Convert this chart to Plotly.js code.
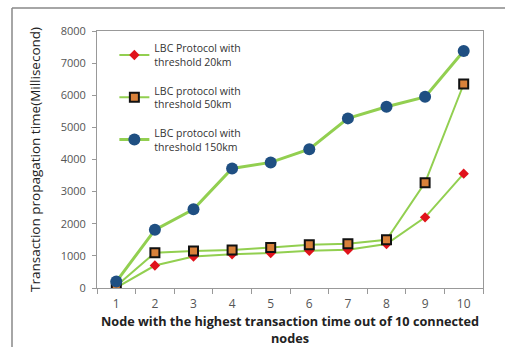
<!DOCTYPE html>
<html>
<head>
<meta charset="utf-8">
<script src="https://cdn.plot.ly/plotly-3.0.1.min.js"></script>
<style>html,body{margin:0;padding:0;background:#fff;}#chart{width:505px;height:347px;}</style>
</head>
<body>
<div id="chart"></div>
<script>
const nodes = ["1","2","3","4","5","6","7","8","9","10"];
const threshold20 = [10, 700, 980, 1050, 1090, 1160, 1190, 1370, 2200, 3560];
const threshold50 = [60, 1100, 1150, 1180, 1260, 1350, 1380, 1500, 3280, 6350];
const threshold150 = [200, 1810, 2450, 3720, 3910, 4320, 5280, 5640, 5950, 7380];
const seriesNames = ["LBC Protocol with<br>threshold 20km", "LBC protocol with<br>threshold 50km", "LBC protocol with<br>threshold 150km"];
const yTicks = [0, 1000, 2000, 3000, 4000, 5000, 6000, 7000, 8000];

const lineColor = '#92cf50';
const traces = [
  {x: nodes, y: threshold20, name: seriesNames[0], legendgroup: 'a', mode: 'lines+markers',
   line: {color: lineColor, width: 2},
   marker: {symbol: 'diamond', size: 8, color: '#e0131b', line: {color: '#e0131b', width: 0}}},
  {x: nodes, y: threshold50, name: seriesNames[1], legendgroup: 'b', mode: 'lines+markers',
   line: {color: lineColor, width: 2},
   marker: {symbol: 'square', size: 9, color: '#d9813a', line: {color: '#111', width: 2}}},
  {x: nodes, y: threshold150, name: seriesNames[2], legendgroup: 'c', mode: 'lines+markers',
   line: {color: lineColor, width: 3},
   marker: {symbol: 'circle', size: 12, color: '#1f4f82', line: {color: '#1f4f82', width: 0}}}
];

const layout = {
  width: 505, height: 347,
  margin: {l: 97, r: 22, t: 31, b: 59},
  paper_bgcolor: '#fff', plot_bgcolor: '#fff',
  font: {family: 'Open Sans, Liberation Sans, sans-serif', color: '#333'},
  showlegend: true,
  legend: {x: 0.045, y: 0.985, xanchor: 'left', yanchor: 'top', bgcolor: 'rgba(0,0,0,0)',
           font: {size: 10.5, color: '#333'}, traceorder: 'grouped', tracegroupgap: 12},
  xaxis: {type: 'category', range: [-0.5, 9.5], tickson: 'boundaries', ticks: 'outside', ticklen: 5,
          tickcolor: '#999', showline: true, linecolor: '#999', linewidth: 1, mirror: true,
          showgrid: false, zeroline: false, tickfont: {size: 12, color: '#555'}, ticklabelstandoff: 5,
          title: {text: '<b>Node with the highest transaction time out of 10 connected<br>nodes</b>',
                  font: {size: 12.7, color: '#222'}, standoff: 11}},
  yaxis: {range: [0, 8000], tickvals: yTicks, ticks: 'outside', ticklen: 4, tickcolor: '#999',
          showline: true, linecolor: '#999', linewidth: 1, mirror: true, showgrid: false, zeroline: false,
          tickfont: {size: 11, color: '#555'}, ticklabelstandoff: 4,
          title: {text: 'Transaction propagation time(Millisecond)', font: {size: 13.5, color: '#222'}, standoff: 16}},
  shapes: [
    {type: 'line', xref: 'paper', yref: 'paper', x0: -0.2202, x1: 1.06, y0: 1.0895, y1: 1.0895, line: {color: '#888', width: 1.5}},
    {type: 'line', xref: 'paper', yref: 'paper', x0: -0.2202, x1: -0.2202, y0: 1.0895, y1: -0.24, line: {color: '#888', width: 1.5}}
  ]
};

Plotly.newPlot('chart', traces, layout, {displayModeBar: false, staticPlot: true});
</script>
</body>
</html>
